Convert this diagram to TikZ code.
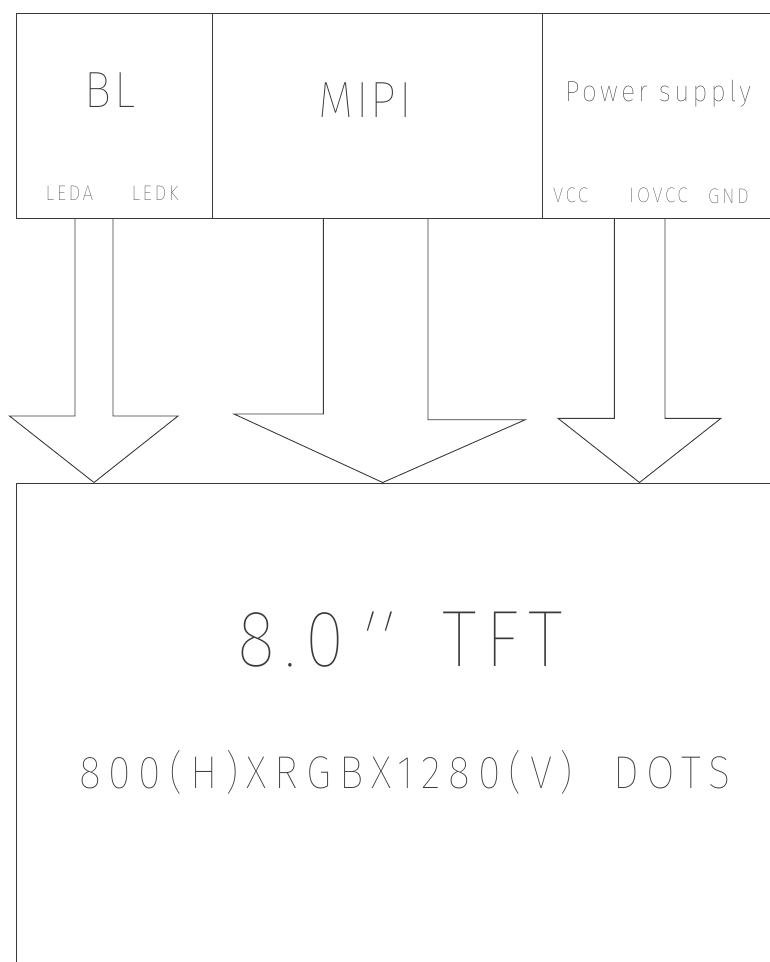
\documentclass[tikz,border=0pt]{standalone}
\usepackage{fontspec}
\newfontfamily\cadfont[FakeStretch=0.9]{Fira Sans Thin}
\definecolor{linegray}{HTML}{3A3A3A}

\tikzset{
  block/.style={draw=linegray, line width=0.9pt, inner sep=0pt},
  flow/.style={draw=linegray, line width=0.9pt, line join=miter},
  cadtext/.style={text=linegray, inner sep=0pt, anchor=base},
  huge size/.style={font=\cadfont\addfontfeature{LetterSpace=6}\fontsize{80}{80}\selectfont},
  big size/.style={font=\cadfont\addfontfeature{LetterSpace=5}\fontsize{51}{51}\selectfont},
  mid size/.style={font=\cadfont\addfontfeature{LetterSpace=17}\fontsize{46}{46}\selectfont},
  small size/.style={font=\cadfont\addfontfeature{LetterSpace=11.5}\fontsize{29}{29}\selectfont},
  pin size/.style={font=\cadfont\addfontfeature{LetterSpace=12}\fontsize{21}{21}\selectfont},
}

\begin{document}
\begin{tikzpicture}[x=1pt, y=-1pt]
    % page of the drawing
    \useasboundingbox (0,0) rectangle (770,962);
    \clip (0,0) rectangle (770,962);

    % draw the input blocks
    \node[block, anchor=north west, minimum width=196pt, minimum height=205pt] (bl) at (15.5,12.5) {};
    \node[block, anchor=north west, minimum width=330.5pt, minimum height=205.5pt] (mipi) at (211.5,12.5) {};
    \node[block, anchor=north west, minimum width=260pt, minimum height=205pt] (power) at (542,12.5) {};

    % draw the panel
    \node[block, anchor=north west, minimum width=800pt, minimum height=520pt] (panel) at (15.5,482.5) {};

    % draw the block titles
    \node[cadtext, big size] (bltitle) at (110,107) {BL};
    \node[cadtext, big size] (mipititle) at (365,117) {MIPI};
    \node[cadtext, small size] (powertitle) at (658,101.7) {Power supply};

    % draw the pin names
    \node[cadtext, pin size] (leda) at (69.5,200.7) {LEDA};
    \node[cadtext, pin size] (ledk) at (155,200.7) {LEDK};
    \node[cadtext, pin size] (vcc) at (570.5,202) {VCC};
    \node[cadtext, pin size] (iovcc) at (658.5,202) {IOVCC};
    \node[cadtext, pin size] (gnd) at (728.5,203.5) {GND};

    % draw the panel texts
    \node[cadtext, huge size] (size) at (400,666)
        {8\hspace{9pt}.\hspace{9pt}0\hspace{6pt}{\addfontfeature{FakeSlant=0.3}''}\hspace{60pt}{\addfontfeature{LetterSpace=11}TFT}};
    \node[cadtext, mid size] (dots) at (405,788) {800(H)XRGBX1280(V)\ \ DOTS};

    % draw the arrow from BL
    \draw[flow] (75,0 |- bl.south) -- (75,416) -- (9.5,416) -- (94,0 |- panel.north)
        -- (178,416) -- (113,416) -- (113,0 |- bl.south);

    % draw the arrow from MIPI
    \draw[flow] (323.3,0 |- mipi.south) -- (323.3,414) -- (234,414) -- (382.7,0 |- panel.north)
        -- (525.3,419.7) -- (428,419.7) -- (428,0 |- mipi.south);

    % draw the arrow from the power supply
    \draw[flow] (614.3,0 |- power.south) -- (614.3,418.3) -- (558,418.3) -- (639.5,0 |- panel.north)
        -- (721,418.3) -- (665,418.3) -- (665,0 |- power.south);
\end{tikzpicture}
\end{document}
